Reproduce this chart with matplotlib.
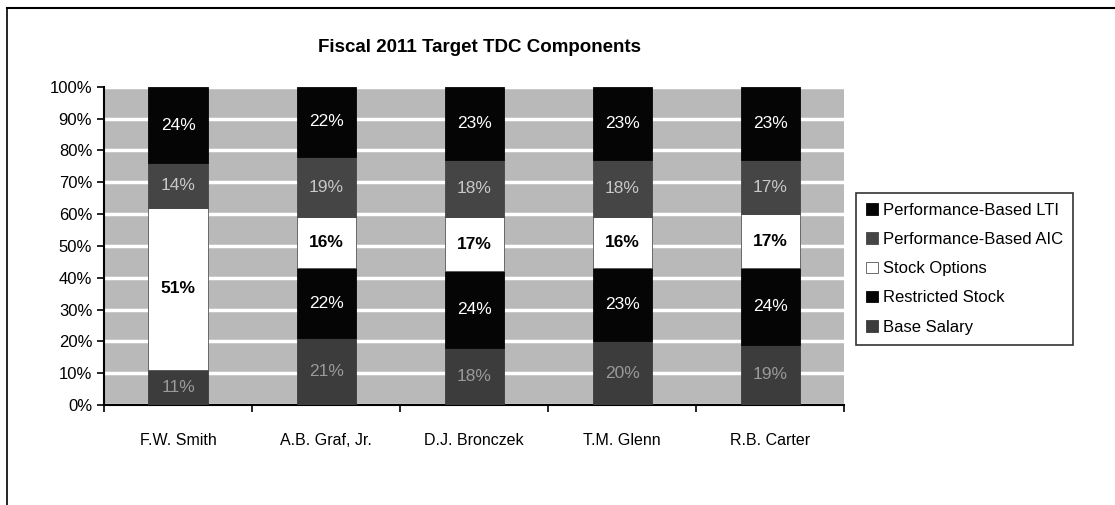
import matplotlib.pyplot as plt
import matplotlib.lines as mlines
import numpy as np

names = ['F.W. Smith', 'A.B. Graf, Jr.', 'D.J. Bronczek', 'T.M. Glenn', 'R.B. Carter']
base_salary = [11, 21, 18, 20, 19]
restricted = [0, 22, 24, 23, 24]
options = [51, 16, 17, 16, 17]
aic = [14, 19, 18, 18, 17]
lti = [24, 22, 23, 23, 23]

series = [
    ('Base Salary', base_salary, '#3c3c3c', '#9a9a9a', 'normal'),
    ('Restricted Stock', restricted, '#050505', 'white', 'normal'),
    ('Stock Options', options, 'white', 'black', 'bold'),
    ('Performance-Based AIC', aic, '#454545', '#c8c8c8', 'normal'),
    ('Performance-Based LTI', lti, '#050505', 'white', 'normal'),
]

plt.rcParams['font.family'] = ['Liberation Sans', 'DejaVu Sans']

fig = plt.figure(figsize=(11.15, 5.05), dpi=100)
ax = fig.add_axes([0.0933, 0.198, 0.664, 0.63])

x = np.arange(len(names))
bottom = np.zeros(len(names))
handles = {}
for label, vals, color, tcol, weight in series:
    vals = np.array(vals, dtype=float)
    bars = ax.bar(x, vals, 0.4, bottom=bottom, color=color,
                  edgecolor='#555555' if color == 'white' else color,
                  linewidth=0.6, zorder=3)
    handles[label] = bars
    for xi, v, b in zip(x, vals, bottom):
        if v > 0:
            ax.text(xi, b + v / 2, f'{int(v)}%', ha='center', va='center',
                    color=tcol, fontsize=12.5, fontweight=weight, zorder=4)
    bottom += vals

ax.set_facecolor('#b9b9b9')
ax.set_xlim(-0.5, len(names) - 0.5)
ax.set_ylim(0, 100)
ax.set_yticks(range(0, 101, 10))
ax.set_yticklabels([f'{v}%' for v in range(0, 101, 10)], fontsize=12)
ax.yaxis.grid(True, color='white', linewidth=2.5, zorder=1)
ax.set_axisbelow(True)
ax.set_xticks(x)
ax.set_xticklabels(names, fontsize=11.5)
ax.tick_params(axis='x', length=0, pad=20)
ax.set_xticks(np.arange(-0.5, len(names), 1), minor=True)
ax.tick_params(axis='x', which='minor', length=5, width=1.2, direction='out')
ax.tick_params(axis='y', length=5, width=1.2, direction='out')
for s in ['top', 'right']:
    ax.spines[s].set_visible(False)
ax.spines['left'].set_linewidth(1.5)
ax.spines['bottom'].set_linewidth(1.5)

fig.text(0.43, 0.905, 'Fiscal 2011 Target TDC Components', ha='center',
         va='center', fontsize=13.5, fontweight='bold')

order = ['Performance-Based LTI', 'Performance-Based AIC', 'Stock Options',
         'Restricted Stock', 'Base Salary']
leg = fig.legend([handles[k] for k in order], order, loc='upper left',
                 bbox_to_anchor=(0.768, 0.618), borderaxespad=0,
                 fontsize=12, frameon=True,
                 fancybox=False, edgecolor='black', handlelength=0.7,
                 handleheight=0.7, handletextpad=0.3, labelspacing=0.85,
                 borderpad=0.6)
leg.get_frame().set_linewidth(1.2)

# frame around the chart: top and left only
fig.lines.append(mlines.Line2D([0.006, 1.0], [0.984, 0.984],
                 transform=fig.transFigure, color='black', linewidth=1.5))
fig.lines.append(mlines.Line2D([0.006, 0.006], [0.0, 0.984],
                 transform=fig.transFigure, color='black', linewidth=1.2))

fig.savefig('out.png', dpi=100)
